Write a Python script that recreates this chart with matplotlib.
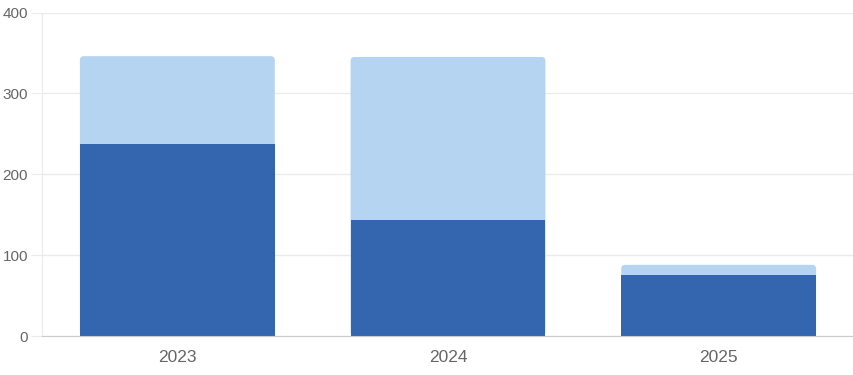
import matplotlib.pyplot as plt
from matplotlib.patches import FancyBboxPatch
import numpy as np

plt.rcParams['font.family'] = ['Liberation Sans', 'DejaVu Sans']

years = ['2023', '2024', '2025']
dark_vals = [237, 143, 76]
light_vals = [109, 202, 12]

DARK = '#3366ae'
LIGHT = '#b5d4f2'
GRID = '#ebebeb'
TEXT = '#666666'

fig = plt.figure(figsize=(8.54, 3.75), dpi=100)
ax = fig.add_axes([42 / 854, 39 / 375, 812 / 854, 323.5 / 375])

x = np.arange(len(years))
totals = [d + l for d, l in zip(dark_vals, light_vals)]

ax.set_xlim(-0.5, len(years) - 0.5)
ax.set_ylim(0, 400)

# light bar spans full stack with rounded top, dark segment drawn over it
light_bars = ax.bar(x, totals, width=0.72, color=LIGHT, zorder=3)
px_x = (len(years)) / 812.0      # data units per pixel, x
px_y = 400 / 323.5               # data units per pixel, y
r = 4 * px_x
for rect in light_bars:
    patch = FancyBboxPatch(rect.get_xy(), rect.get_width(), rect.get_height(),
                           boxstyle='round,pad=0,rounding_size=%f' % r,
                           mutation_aspect=px_y / px_x,
                           facecolor=LIGHT, edgecolor='none', zorder=3)
    rect.remove()
    ax.add_patch(patch)

ax.bar(x, dark_vals, width=0.72, color=DARK, zorder=4)

ax.set_yticks([0, 100, 200, 300, 400])
ax.set_xticks(x)
ax.set_xticklabels(years)

ax.grid(axis='y', color=GRID, linewidth=1, zorder=0)
for side in ['top', 'right']:
    ax.spines[side].set_visible(False)
ax.spines['left'].set_color(GRID)
ax.spines['bottom'].set_color('#cccccc')
ax.spines['bottom'].set_zorder(5)

ax.tick_params(axis='y', length=8, color=GRID, labelcolor=TEXT, labelsize=11, pad=2)
ax.tick_params(axis='x', length=0, labelcolor=TEXT, labelsize=12.5, pad=10)

fig.savefig('out.png', dpi=100)
